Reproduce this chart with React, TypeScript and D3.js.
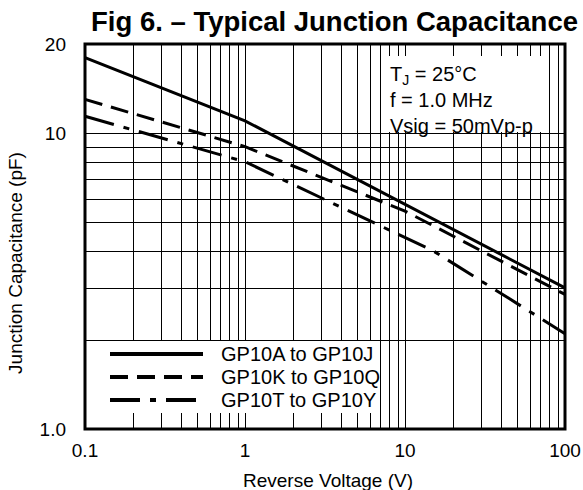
import React from "react";
import * as d3 from "d3";

const title = "Fig 6. – Typical Junction Capacitance";
const xTicks = [0.1, 1, 10, 100];
const xTickLabels = ["0.1", "1", "10", "100"];
const yTicks = [1, 10, 20];
const yTickLabels = ["1.0", "10", "20"];
const yGrid = [2, 3, 4, 5, 6, 7, 8, 9, 10, 20];
const decades = [0.1, 1, 10];
const multipliers = [1, 2, 3, 4, 5, 6, 7, 8, 9];

const seriesNames = ["GP10A to GP10J", "GP10K to GP10Q", "GP10T to GP10Y"];
const seriesA: [number, number][] = [[0.1, 18], [1, 11], [100, 3.0]];
const seriesK: [number, number][] = [[0.1, 13], [1, 9.0], [10, 5.45], [100, 2.85]];
const seriesT: [number, number][] = [[0.1, 11.4], [1, 8.0], [15, 4.0], [100, 2.1]];
const seriesDash = ["none", "18,9", "30,10,6,10"];
const annotLines = ["f = 1.0 MHz", "Vsig = 50mVp-p"];

export default function App() {
  const W = 583, H = 490;
  const L = 85, R = 565, T = 44, B = 429;
  const x = d3.scaleLog().domain([0.1, 100]).range([L, R]);
  const y = d3.scaleLog().domain([1, 20]).range([B, T]);
  const line = d3.line<[number, number]>().x(d => x(d[0])).y(d => y(d[1]));
  const series = [seriesA, seriesK, seriesT];
  const vGrid: number[] = [];
  decades.forEach(d => multipliers.forEach(m => vGrid.push(d * m)));
  vGrid.push(100);
  const font = "'Liberation Sans', Arial, sans-serif";
  return (
    <svg width={W} height={H} style={{ position: "absolute", left: 0, top: 0, background: "#fff" }} fontFamily={font}>
      <rect x={0} y={0} width={W} height={H} fill="#fff" />
      <text x={91} y={31} fontSize={27.5} fontWeight="bold">{title}</text>
      {vGrid.map((v, i) => (
        <line key={"v" + i} x1={Math.round(x(v)) + 0.5} x2={Math.round(x(v)) + 0.5} y1={T} y2={B} stroke="#000" strokeWidth={1} />
      ))}
      {yGrid.map((v, i) => (
        <line key={"h" + i} x1={L} x2={R} y1={Math.round(y(v)) + 0.5} y2={Math.round(y(v)) + 0.5} stroke="#000" strokeWidth={1} />
      ))}
      {/* annotation box */}
      <rect x={385} y={56} width={163} height={76} fill="#fff" />
      <text x={390} y={81} fontSize={20}>T<tspan fontSize={14} dy={4}>J</tspan><tspan dy={-4}> = 25°C</tspan></text>
      {annotLines.map((t, i) => (
        <text key={t} x={390} y={107 + i * 26} fontSize={20}>{t}</text>
      ))}
      {/* legend box */}
      <rect x={86} y={341} width={291} height={72} fill="#fff" />
      {series.map((s, i) => (
        <path key={"s" + i} d={line(s) || ""} fill="none" stroke="#000" strokeWidth={3} strokeDasharray={seriesDash[i]} />
      ))}
      {seriesNames.map((n, i) => (
        <g key={n}>
          <line x1={110} x2={203} y1={354 + i * 23} y2={354 + i * 23} stroke="#000" strokeWidth={4} strokeDasharray={seriesDash[i]} />
          <text x={221} y={361 + i * 23} fontSize={20}>{n}</text>
        </g>
      ))}
      <rect x={L} y={T} width={R - L} height={B - T} fill="none" stroke="#000" strokeWidth={3} />
      {xTicks.map((v, i) => (
        <text key={"xt" + i} x={x(v)} y={457} fontSize={19} textAnchor="middle">{xTickLabels[i]}</text>
      ))}
      {yTicks.map((v, i) => (
        <text key={"yt" + i} x={66} y={y(v) + 7} fontSize={19} textAnchor="end">{yTickLabels[i]}</text>
      ))}
      <text x={328} y={487} fontSize={19} textAnchor="middle">Reverse Voltage (V)</text>
      <text transform="translate(22,263) rotate(-90)" fontSize={19} textAnchor="middle">Junction Capacitance (pF)</text>
    </svg>
  );
}
